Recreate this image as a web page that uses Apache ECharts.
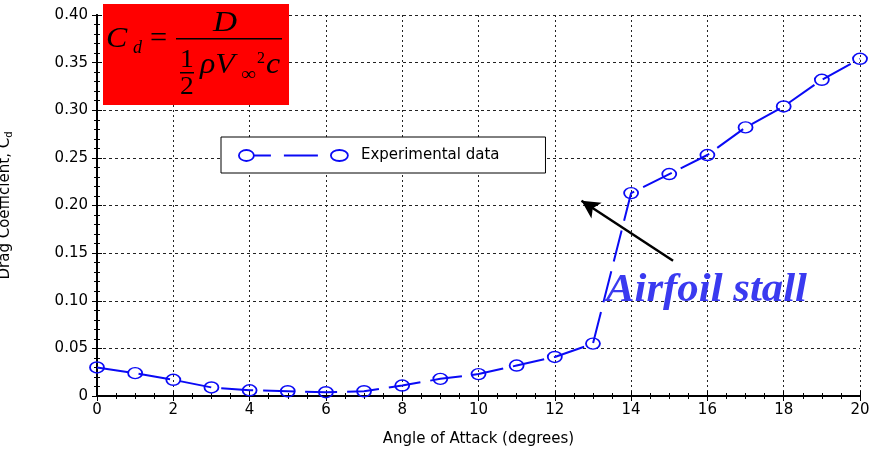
<!DOCTYPE html>
<html>
<head>
<meta charset="utf-8">
<script src="https://cdn.jsdelivr.net/npm/echarts@6/dist/echarts.min.js"></script>
<style>
    html, body { margin: 0; padding: 0; background: #fff; }
    #main { width: 875px; height: 455px; }
</style>
</head>
<body>
<div id="main"></div>
<script>
// 攻角 (deg) 与阻力系数
var angles = [0, 1, 2, 3, 4, 5, 6, 7, 8, 9, 10, 11, 12, 13, 14, 15, 16, 17, 18, 19, 20];
var dragCoef = [0.030, 0.024, 0.017, 0.009, 0.006, 0.005, 0.004, 0.005, 0.011, 0.018, 0.023,
    0.032, 0.041, 0.055, 0.213, 0.233, 0.253, 0.282, 0.304, 0.332, 0.354];
var seriesName = 'Experimental data';
var xTicks = [0, 20, 2];      // min, max, step
var yTicks = [0, 0.40, 0.05];
// stall arrow: from / to (data coords)
var arrowFrom = [15.1, 0.142];
var arrowTo = [12.7, 0.205];

var blue = '#0a0af5';
var serif = '"Liberation Serif", "DejaVu Serif", serif';
var sans = '"DejaVu Sans", "Liberation Sans", sans-serif';

var points = [];
for (var i = 0; i < angles.length; i++) {
    points.push([angles[i], dragCoef[i]]);
}

function fmtY(v) {
    return v === 0 ? '0' : v.toFixed(2);
}

var chart = echarts.init(document.getElementById('main'));
var frameTick = {show: true, inside: true, length: 5, lineStyle: {color: '#000', width: 1}};
var labelStyle = {fontFamily: sans, fontSize: 15, color: '#000'};
var option = {
    animation: false,
    backgroundColor: '#fff',
    grid: {left: 97, right: 15, top: 15, bottom: 59, containLabel: false, outerBoundsMode: 'none'},
    legend: {
        left: 221, top: 137,
        padding: [11, 46, 10, 17],
        backgroundColor: '#fff',
        borderColor: '#000',
        borderWidth: 1,
        itemWidth: 109,
        itemHeight: 12,
        // 圆-短线-长线-圆
        icon: 'path://M0,6 A7.5,5.5 0 1,1 15,6 A7.5,5.5 0 1,1 0,6 M15,6 L32,6 M45,6 L79,6 M92,6 A8.5,5.5 0 1,1 109,6 A8.5,5.5 0 1,1 92,6',
        itemStyle: {color: 'transparent', borderColor: blue, borderWidth: 1.8},
        textStyle: {fontFamily: sans, fontSize: 15, color: '#000', padding: [0, 0, 0, 8]},
        data: [seriesName]
    },
    xAxis: [{
        type: 'value', min: xTicks[0], max: xTicks[1], interval: xTicks[2],
        name: 'Angle of Attack (degrees)', nameLocation: 'middle', nameGap: 36,
        nameTextStyle: labelStyle,
        axisLine: {lineStyle: {color: '#000', width: 2}},
        axisTick: frameTick,
        minorTick: {show: true, splitNumber: 4, length: 3, lineStyle: {color: '#000'}},
        axisLabel: {fontFamily: sans, fontSize: 15, color: '#000', margin: 7},
        splitLine: {show: true, lineStyle: {color: '#222', type: [2, 3], width: 1}}
    }, {
        type: 'value', position: 'top', min: xTicks[0], max: xTicks[1], interval: xTicks[2],
        axisLine: {show: true, lineStyle: {color: '#000', width: 2}},
        axisTick: frameTick,
        minorTick: {show: true, splitNumber: 4, length: 3, lineStyle: {color: '#000'}},
        axisLabel: {show: false},
        splitLine: {show: false}
    }],
    yAxis: [{
        type: 'value', min: yTicks[0], max: yTicks[1], interval: yTicks[2],
        name: 'Drag Coefficient, C{sub|d}', nameLocation: 'middle', nameGap: 83,
        nameTextStyle: {
            fontFamily: sans, fontSize: 15, color: '#000',
            rich: {sub: {fontFamily: sans, fontSize: 10, color: '#000', padding: [8, 0, 0, 0]}}
        },
        axisLine: {show: true, lineStyle: {color: '#000', width: 2}},
        axisTick: frameTick,
        minorTick: {show: true, splitNumber: 5, length: 3, lineStyle: {color: '#000'}},
        axisLabel: {fontFamily: sans, fontSize: 15, color: '#000', margin: 9, formatter: fmtY},
        splitLine: {show: true, lineStyle: {color: '#222', type: [3, 3], width: 1}}
    }, {
        type: 'value', position: 'right', min: yTicks[0], max: yTicks[1], interval: yTicks[2],
        axisLine: {show: true, lineStyle: {color: '#000', width: 2}},
        axisTick: frameTick,
        minorTick: {show: true, splitNumber: 5, length: 3, lineStyle: {color: '#000'}},
        axisLabel: {show: false},
        splitLine: {show: false}
    }],
    series: [{
        name: seriesName,
        type: 'line',
        data: points,
        symbol: 'circle',
        symbolSize: [14, 11],
        itemStyle: {color: 'transparent', borderColor: blue, borderWidth: 1.6},
        lineStyle: {color: blue, width: 2, type: [32, 10]},
        z: 5,
        markLine: {
            silent: true,
            symbol: ['none', 'arrow'],
            symbolSize: [14, 18],
            label: {show: false},
            lineStyle: {color: '#000', width: 2.5, type: 'solid'},
            data: [[{coord: arrowFrom}, {coord: arrowTo}]]
        }
    }],
    graphic: [
        // 公式框
        {type: 'rect', left: 103, top: 4, shape: {width: 186, height: 101}, style: {fill: '#ff0000'}, z: 10},
        {type: 'text', x: 106, y: 25, z: 11, scaleX: 1.1, style: {text: 'C', font: 'italic 29px ' + serif, fill: '#000'}},
        {type: 'text', x: 133, y: 39, z: 11, style: {text: 'd', font: 'italic 18px ' + serif, fill: '#000'}},
        {type: 'text', x: 150, y: 25, z: 11, scaleX: 1.05, style: {text: '=', font: '29px ' + serif, fill: '#000'}},
        {type: 'rect', z: 11, shape: {x: 176, y: 38, width: 106, height: 1.5}, style: {fill: '#000'}},
        {type: 'text', x: 213, y: 9, z: 11, scaleX: 1.15, style: {text: 'D', font: 'italic 29px ' + serif, fill: '#000'}},
        {type: 'text', x: 180, y: 48, z: 11, scaleX: 1.1, style: {text: '1', font: '25px ' + serif, fill: '#000'}},
        {type: 'rect', z: 11, shape: {x: 180, y: 72, width: 14, height: 1.5}, style: {fill: '#000'}},
        {type: 'text', x: 180, y: 75, z: 11, scaleX: 1.1, style: {text: '2', font: '25px ' + serif, fill: '#000'}},
        {type: 'text', x: 200, y: 51, z: 11, scaleX: 1.1, style: {text: '\u03c1V', font: 'italic 29px ' + serif, fill: '#000'}},
        {type: 'text', x: 241, y: 66, z: 11, scaleX: 1.1, style: {text: '\u221e', font: '19px ' + serif, fill: '#000'}},
        {type: 'text', x: 257, y: 51, z: 11, style: {text: '2', font: '16px ' + serif, fill: '#000'}},
        {type: 'text', x: 266, y: 51, z: 11, scaleX: 1.1, style: {text: 'c', font: 'italic 29px ' + serif, fill: '#000'}},
        // 失速标注
        {
            type: 'text', x: 606, y: 271, z: 12, scaleX: 1.07,
            style: {
                text: 'Airfoil stall', font: 'italic bold 40px ' + serif, fill: '#3a3af0',
                shadowColor: 'rgba(0,0,0,0.45)', shadowBlur: 4, shadowOffsetX: 3, shadowOffsetY: 4
            }
        }
    ]
};
chart.setOption(option);
</script>
</body>
</html>
